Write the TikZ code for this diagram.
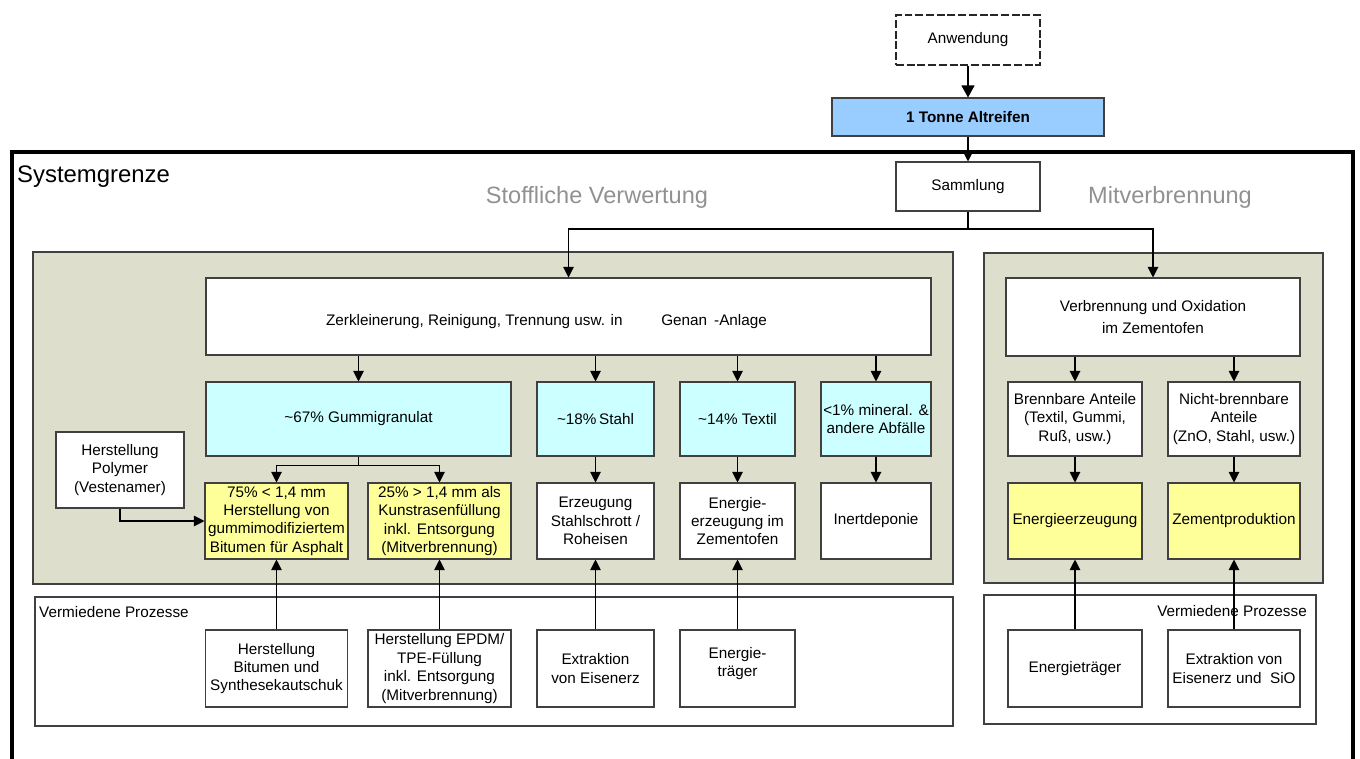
\documentclass[tikz,border=0pt]{standalone}
\usepackage{fontspec}
\setmainfont{Liberation Sans}
\usetikzlibrary{arrows.meta}
\definecolor{panel_green}{RGB} {221,223,204}
\definecolor{box_cyan}{RGB} {204,255,255}
\definecolor{box_yellow}{RGB} {255,255,153}
\definecolor{box_blue}{RGB} {153,204,255}
\definecolor{label_gray}{RGB} {145,145,145}

\begin{document}
\begin{tikzpicture}[x=0.02cm, y=-0.02cm,
    every node/.style={font=\fontsize{8.7}{10.5}\selectfont},
    box/.style={draw=black!75, line width=0.6pt, fill=white, inner sep=1pt, align=center},
    sz/.style 2 args={minimum width=#1*0.02cm, minimum height=#2*0.02cm},
    arr/.style={-{Triangle[length=2.1mm,width=2.1mm]}, line width=0.6pt},
    bigarr/.style={-{Triangle[length=2.4mm,width=2.6mm]}, line width=0.6pt},
    panel/.style={draw=black!75, line width=0.7pt, fill=panel_green},
    avoided/.style={draw=black!75, line width=0.7pt},
    heading/.style={font=\fontsize{13.4}{16}\selectfont, text=label_gray},
  ]
  \useasboundingbox (0,0) rectangle (1360,758);

  % system boundary and panels
  \draw[line width=2.3pt] (12,759) |- (1353,152) -- (1353,759);
  \node[anchor=base west, font=\fontsize{13.6}{16}\selectfont] (sysgrenze) at (11,182) {Systemgrenze};
  \node[heading] (stofflich) at (597,197) {Stoffliche Verwertung};
  \node[heading] (mitverbr) at (1170,197) {Mitverbrennung};
  \draw[panel] (33,252) rectangle (953,584);
  \draw[panel] (984,253) rectangle (1323,583);
  \draw[avoided] (35,597) rectangle (953,726);
  \draw[avoided] (984,595) rectangle (1316,724);
  \node[anchor=base west] (vermiedenL) at (33,617) {Vermiedene Prozesse};
  \node[anchor=base east] (vermiedenR) at (1313,616) {Vermiedene Prozesse};

  % top
  \node[box, sz={144}{50}, draw=black!85, line width=1.1pt, dash pattern=on 4.5pt off 1.6pt] (anw) at (968,40) {Anwendung};
  \node[box, sz={272}{38}, fill=box_blue, font=\fontsize{8.7}{10.5}\selectfont\bfseries] (tonne) at (968,117) {1 Tonne Altreifen};
  \node[box, sz={144}{49}] (samm) at (968,186.5) {Sammlung};

  % Stoffliche Verwertung
  \node[box, sz={725}{77}, text height=12pt] (zerk) at (568.5,316.5) {Zerkleinerung, Reinigung, Trennung usw. in\hspace{22pt}Genan\hspace{4pt}-Anlage\hspace{25pt}};
  \node[box, sz={305}{74}, fill=box_cyan] (gummi) at (358.5,419) {\textasciitilde67\% Gummigranulat};
  \node[box, sz={117}{74}, fill=box_cyan] (stahl) at (595.5,419) {\textasciitilde18\%\,Stahl};
  \node[box, sz={115}{74}, fill=box_cyan] (textil) at (737.5,419) {\textasciitilde14\% Textil};
  \node[box, sz={110}{74}, fill=box_cyan] (mineral) at (876,419) {<1\% mineral. \&\\andere Abfälle};
  \node[box, sz={128}{76}] (polymer) at (120,470) {Herstellung\\Polymer\\(Vestenamer)};
  \node[box, sz={143}{76}, fill=box_yellow] (asphalt) at (276.5,521) {75\% < 1,4 mm\\Herstellung von\\gummimodifiziertem\\Bitumen für Asphalt};
  \node[box, sz={143}{76}, fill=box_yellow] (rasen) at (439.5,521) {25\% > 1,4 mm als\\Kunstrasenfüllung\\inkl. Entsorgung\\(Mitverbrennung)};
  \node[box, sz={117}{76}] (schrott) at (595.5,521) {Erzeugung\\Stahlschrott /\\Roheisen};
  \node[box, sz={115}{76}] (ofen) at (737.5,521) {Energie-\\erzeugung im\\Zementofen};
  \node[box, sz={110}{76}] (inert) at (876,521) {Inertdeponie};

  % Mitverbrennung
  \node[box, sz={294}{78}, font=\fontsize{8.7}{12.5}\selectfont] (verbr) at (1153,317) {Verbrennung und Oxidation\\im Zementofen};
  \node[box, sz={134}{74}] (brenn) at (1075,419) {Brennbare Anteile\\(Textil, Gummi,\\Ruß, usw.)};
  \node[box, sz={132}{74}] (nichtbr) at (1234,419) {Nicht-brennbare\\Anteile\\(ZnO, Stahl, usw.)};
  \node[box, sz={134}{76}, fill=box_yellow] (energie) at (1075,521) {Energieerzeugung};
  \node[box, sz={132}{76}, fill=box_yellow] (zement) at (1234,521) {Zementproduktion};

  % vermiedene Prozesse
  \node[box, sz={142}{77}] (v_bitumen) at (276.5,668.5) {Herstellung\\Bitumen und\\Synthesekautschuk};
  \node[box, sz={143}{77}] (v_epdm) at (439.5,668.5) {Herstellung EPDM/\\TPE-Füllung\\inkl. Entsorgung\\(Mitverbrennung)};
  \node[box, sz={117}{77}] (v_erz) at (595.5,668.5) {Extraktion\\von Eisenerz};
  \node[box, sz={115}{77}] (v_traeger) at (737.5,668.5) {Energie-\\träger\\[-3pt]\mbox{}};
  \node[box, sz={134}{77}] (v_traeger2) at (1075,668.5) {Energieträger};
  \node[box, sz={132}{77}] (v_sio) at (1234,668.5) {Extraktion von\\Eisenerz und\ \ SiO};

  % connectors
  \draw[bigarr] (anw) -- (tonne);
  \draw[arr] (tonne) -- (samm);
  \coordinate (split) at (968,229);
  \draw[line width=0.6pt] (samm) -- (split);
  \draw[arr] (split) -| (zerk);
  \draw[arr] (split) -| (verbr);
  \foreach \n in {gummi,stahl,textil,mineral}
    \draw[arr] (zerk.south -| \n) -- (\n);
  \draw[line width=0.6pt] (gummi.south) -- ++(0,9) coordinate (gsplit);
  \draw[arr] (gsplit) -| (asphalt);
  \draw[arr] (gsplit) -| (rasen);
  \draw[arr] (polymer.south) |- (asphalt);
  \draw[arr] (stahl) -- (schrott);
  \draw[arr] (textil) -- (ofen);
  \draw[arr] (mineral) -- (inert);
  \draw[arr] (verbr.south -| brenn) -- (brenn);
  \draw[arr] (verbr.south -| nichtbr) -- (nichtbr);
  \draw[arr] (brenn) -- (energie);
  \draw[arr] (nichtbr) -- (zement);
  \draw[arr] (v_bitumen) -- (asphalt);
  \draw[arr] (v_epdm) -- (rasen);
  \draw[arr] (v_erz) -- (schrott);
  \draw[arr] (v_traeger) -- (ofen);
  \draw[arr] (v_traeger2) -- (energie);
  \draw[arr] (v_sio) -- (zement);
\end{tikzpicture}
\end{document}
